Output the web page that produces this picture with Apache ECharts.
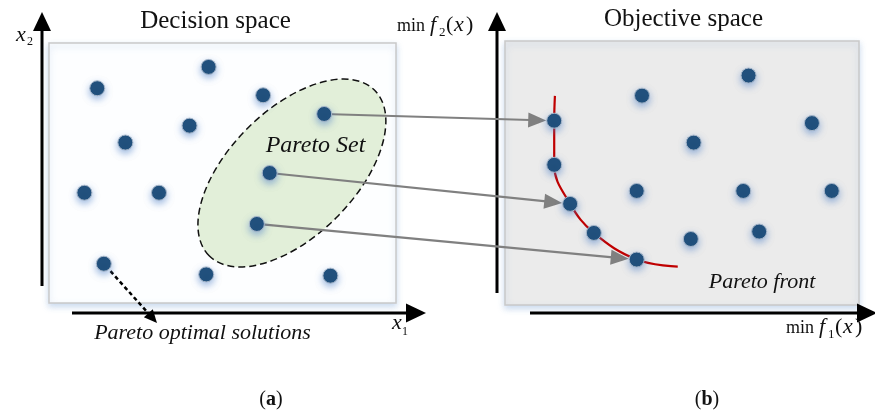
<!DOCTYPE html>
<html><head><meta charset="utf-8">
<script src="https://cdn.jsdelivr.net/npm/echarts@6/dist/echarts.min.js"></script>
<style>html,body{margin:0;padding:0;background:#fff}#c{width:875px;height:414px}</style>
</head><body><div id="c"></div>
<script>
// ---- Decision space (x1, x2), panel scaled 0-100 ----
const decisionOther = [[13.9,82.6],[46.0,90.8],[61.7,79.9],[40.5,68.2],[22.0,61.7],[10.2,42.4],[31.7,42.4],[15.8,15.1],[45.3,11.0],[81.1,10.5]];
const paretoSet = [[79.3,72.7],[63.6,50.0],[59.9,30.4]];
const paretoSetCentre = [70.0,50.0];
const optimalExample = [15.8,15.1];
// ---- Objective space (f1, f2), panel scaled 0-100 ----
const objectiveOther = [[68.8,86.9],[38.7,79.3],[86.7,68.9],[53.3,61.5],[37.2,43.2],[67.3,43.2],[92.3,43.2],[71.8,27.8],[52.5,25.0]];
const paretoFront = [[13.9,69.8],[13.9,53.1],[18.4,38.3],[25.1,27.3],[37.2,17.2]];
const frontCurve = [[14.1,79.2],[13.9,69.8],[13.9,53.1],[18.4,38.3],[25.1,27.3],[37.2,17.2],[48.8,14.5]];
const setToFront = [[0,0],[1,2],[2,4]];
const panelTitles = ['Decision space','Objective space'];
const panelLetters = ['a','b'];
const regionLabels = ['Pareto Set','Pareto front','Pareto optimal solutions'];

const chart = echarts.init(document.getElementById('c'));
const FF = '"Liberation Serif", "Times New Roman", serif';
const dotStyle = {color:'#1f4e79', opacity:1, borderColor:'#a7b7ca', borderWidth:1,
  shadowBlur:7, shadowColor:'rgba(80,130,200,0.55)', shadowOffsetY:3};

chart.setOption({
  animation:false,
  grid:[
    {left:49, top:43, width:347, height:260, show:true, backgroundColor:'#fdfeff', borderColor:'#c9c9c9', borderWidth:1.5,
     shadowBlur:6, shadowColor:'rgba(140,175,220,0.45)', shadowOffsetY:3},
    {left:505, top:41, width:354, height:264, show:true, backgroundColor:'#ebebeb', borderColor:'#c9c9c9', borderWidth:1.5,
     shadowBlur:6, shadowColor:'rgba(140,175,220,0.45)', shadowOffsetY:3}
  ],
  xAxis:[{gridIndex:0,type:'value',min:0,max:100,show:false},{gridIndex:1,type:'value',min:0,max:100,show:false}],
  yAxis:[{gridIndex:0,type:'value',min:0,max:100,show:false},{gridIndex:1,type:'value',min:0,max:100,show:false}],
  series:[
    {type:'custom', xAxisIndex:0, yAxisIndex:0, z:1, silent:true, data:[paretoSetCentre],
     renderItem:function(p, api){
       const c = api.coord([api.value(0), api.value(1)]);
       return {type:'ellipse', x:c[0], y:c[1], rotation:Math.PI/4,
         shape:{cx:0, cy:0, rx:117, ry:63},
         style:{fill:'#e2efd9', stroke:'#111', lineWidth:1.5, lineDash:[7,4]}};
     }},
    {type:'scatter', xAxisIndex:0, yAxisIndex:0, z:5, symbolSize:15, data:decisionOther.concat(paretoSet), itemStyle:dotStyle},
    {type:'line', xAxisIndex:1, yAxisIndex:1, z:3, smooth:0.4, symbol:'none', data:frontCurve,
     lineStyle:{color:'#c00000', width:2.2}},
    {type:'scatter', xAxisIndex:1, yAxisIndex:1, z:5, symbolSize:15, data:objectiveOther.concat(paretoFront), itemStyle:dotStyle}
  ]
});

const P = (g, v) => chart.convertToPixel({gridIndex:g}, v);
function arrow(p0, p1, startOff, endOff, color, width, headLen, headW, dash){
  const dx=p1[0]-p0[0], dy=p1[1]-p0[1], L=Math.hypot(dx,dy), ux=dx/L, uy=dy/L;
  const s=[p0[0]+ux*startOff, p0[1]+uy*startOff];
  const tip=[p1[0]-ux*endOff, p1[1]-uy*endOff];
  const base=[tip[0]-ux*headLen, tip[1]-uy*headLen];
  const nx=-uy, ny=ux;
  return [
    {type:'line', z:3, silent:true, shape:{x1:s[0],y1:s[1],x2:base[0]+ux*2,y2:base[1]+uy*2},
     style:{stroke:color, lineWidth:width, lineDash:dash||null}},
    {type:'polygon', z:3, silent:true, shape:{points:[tip,[base[0]+nx*headW/2, base[1]+ny*headW/2],[base[0]-nx*headW/2, base[1]-ny*headW/2]]},
     style:{fill:color}}
  ];
}
function T(x, y, text, size, o){
  o = o || {};
  return {type:'text', x:x, y:y, z:10, silent:true, style:{text:text, fontSize:size, fontFamily:FF,
    fontStyle:o.italic?'italic':'normal', fontWeight:o.bold?'bold':'normal', fill:'#111',
    align:o.align||'center', verticalAlign:'middle', rich:o.rich}};
}
const els = [];
// coordinate axes
els.push(...arrow([42,286],[42,12],0,0,'#000',3,19,18));
els.push(...arrow([72,313],[426,313],0,0,'#000',3,20,19));
els.push(...arrow([497,293],[497,12],0,0,'#000',3,19,18));
els.push(...arrow([530,313],[877,313],0,0,'#000',3,20,19));
// mapping arrows Pareto set -> Pareto front
setToFront.forEach(function(m){
  els.push(...arrow(P(0, paretoSet[m[0]]), P(1, paretoFront[m[1]]), 0, 8, '#808080', 2.2, 18, 15));
});
// dashed pointer to "Pareto optimal solutions"
els.push(...arrow(P(0, optimalExample), [157,323], 10, 0, '#000', 2.5, 13, 12, [4,3]));
// texts
els.push(T(215.5, 21, panelTitles[0], 25));
els.push(T(683.5, 19, panelTitles[1], 25));
els.push(T(315.5, 146, regionLabels[0], 24, {italic:true}));
els.push(T(762, 282, regionLabels[1], 22, {italic:true}));
els.push(T(202.5, 333, regionLabels[2], 22, {italic:true}));
const richAB = {p:{fontSize:20, fontFamily:FF}, b:{fontSize:20, fontFamily:FF, fontWeight:'bold'}};
els.push(T(271, 400, '{p|(}{b|' + panelLetters[0] + '}{p|)}', 20, {rich:richAB}));
els.push(T(707, 400, '{p|(}{b|' + panelLetters[1] + '}{p|)}', 20, {rich:richAB}));
// axis names
els.push(T(16, 35, 'x', 22, {italic:true, align:'left'}));
els.push(T(27, 42, '2', 12, {align:'left'}));
els.push(T(392, 323, 'x', 22, {italic:true, align:'left'}));
els.push(T(402, 332, '1', 12, {align:'left'}));
function minF(left, base, sub){
  els.push(T(left, base-6, 'min', 18, {align:'left'}));
  els.push(T(left+33, base-7, 'f', 22, {italic:true, align:'left'}));
  els.push(T(left+42, base+1, sub, 13, {align:'left'}));
  els.push(T(left+49, base-7, '(', 22, {align:'left'}));
  els.push(T(left+57, base-7, 'x', 22, {italic:true, align:'left'}));
  els.push(T(left+69, base-7, ')', 22, {align:'left'}));
}
minF(397, 32, '2');
minF(786, 334, '1');
chart.setOption({graphic:{elements:els}});
</script></body></html>
